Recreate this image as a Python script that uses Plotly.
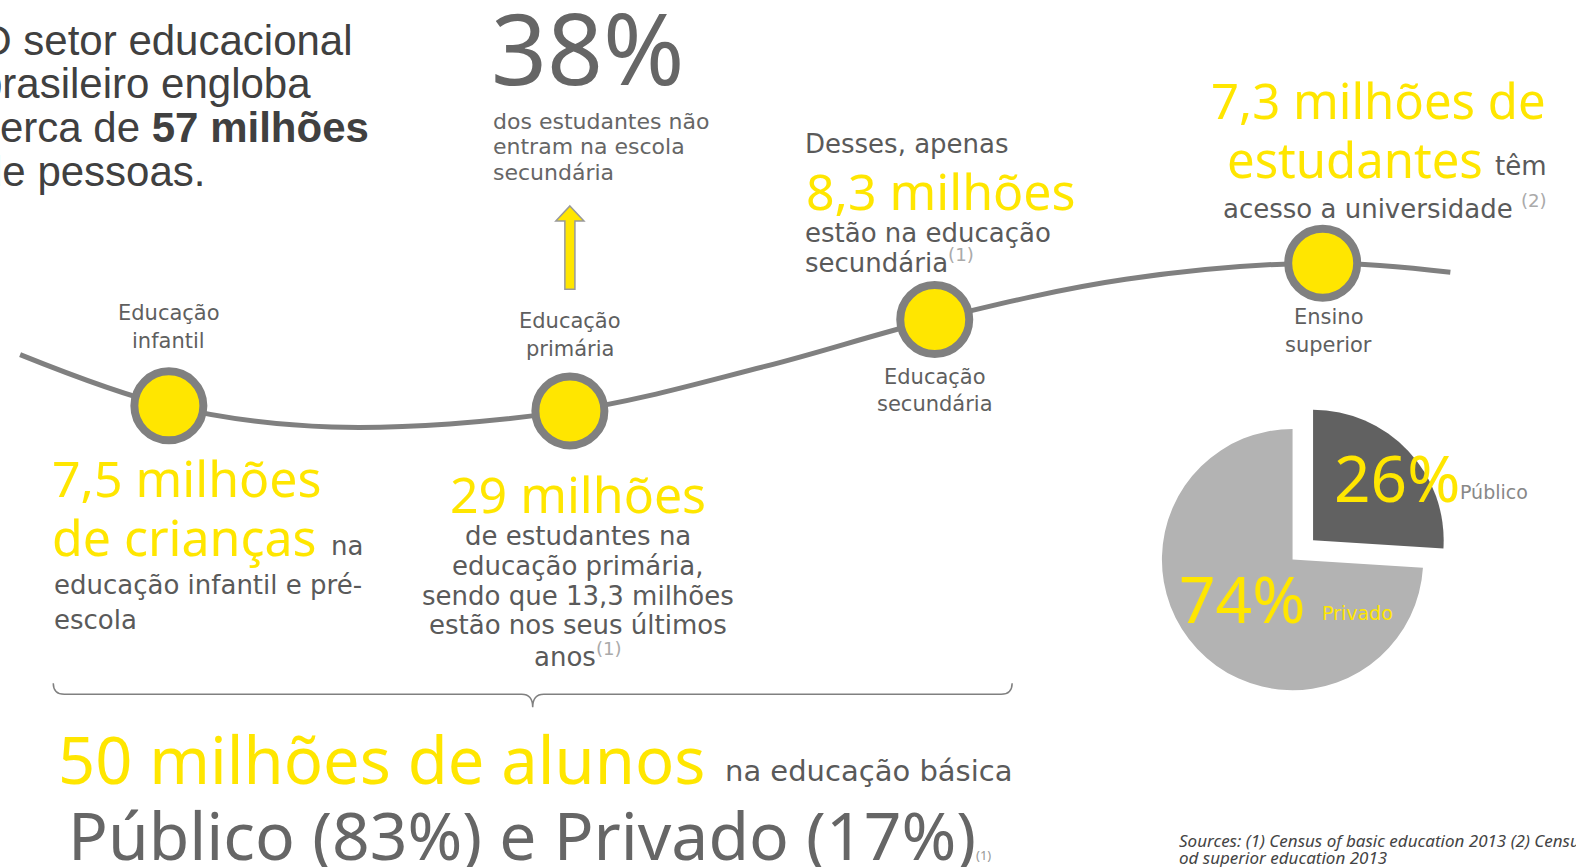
import plotly.graph_objects as go

# dados
stages = ["Educação infantil", "Educação primária", "Educação secundária", "Ensino superior"]
students_mi = [7.5, 29, 8.3, 7.3]          # milhões por etapa
total_people_mi = 57
not_secondary_pct = 38
primary_last_years_mi = 13.3
basic_total_mi = 50
basic_labels = ["Público", "Privado"]
basic_pct = [83, 17]
higher_labels = ["Público", "Privado"]
higher_pct = [26, 74]

YEL = "#FFE600"
GRY = "#5a5a5a"
LINE = "#808080"
BIG = "Noto Sans"
BODY = "DejaVu Sans"


def br(v):
    return f"{v:g}".replace(".", ",")


def sup(s):
    return f"<sup><span style='color:#aaaaaa'>{s}</span></sup>"


fig = go.Figure()

# curva da trajetoria
curve_x = [20, 168, 330, 567, 760, 930, 1120, 1316, 1443]
curve_y = [353, 404, 425, 409, 365, 318, 278, 262, 271]
fig.add_trace(go.Scatter(x=curve_x, y=curve_y, mode="lines",
                         line=dict(color=LINE, width=5, shape="spline", smoothing=1),
                         hoverinfo="skip"))

# etapas
node_x = [168, 567, 930, 1316]
node_y = [404, 409, 318, 262]
fig.add_trace(go.Scatter(x=node_x, y=node_y, mode="markers", text=stages,
                         marker=dict(size=69, color=YEL, line=dict(color=LINE, width=8)),
                         hovertemplate="%{text}<extra></extra>"))

ann = []


def txt(x, y, s, size, color=GRY, anchor="left", family=BODY):
    ann.append(dict(x=x, y=y, xref="x", yref="y", text=s, showarrow=False,
                    xanchor=anchor, yanchor="middle",
                    font=dict(size=size, color=color, family=family)))


# rotulos das etapas
label_pos = [(168, 312), (567, 320), (930, 375), (1322, 316)]
for (lx, ly), name in zip(label_pos, stages):
    w1, w2 = name.split(" ")
    txt(lx, ly, w1, 21, "#5f5f5f", "center")
    txt(lx, ly + 27, w2, 21, "#5f5f5f", "center")

# titulo (comeca cortado na borda esquerda)
for i, s in enumerate(["O setor educacional", "brasileiro engloba",
                       f"cerca de <b>{total_people_mi} milhões</b>", "de pessoas."]):
    ann.append(dict(x=0, y=40 + i * 43.5, xref="paper", yref="y", text=s, showarrow=False,
                    xanchor="left", yanchor="middle", xshift=-23,
                    font=dict(size=42, color="#404040", family="Liberation Sans")))

# 38%
txt(487, 47, f"{not_secondary_pct}%", 98, "#666666", family=BIG)
txt(489, 121, "dos estudantes não", 22, "#666666")
txt(489, 146, "entram na escola", 22, "#666666")
txt(489, 172, "secundária", 22, "#666666")

# seta
fig.add_shape(type="path",
              path="M 567 205 L 581 220 L 572 220 L 572 288 L 562 288 L 562 220 L 553 220 Z",
              fillcolor=YEL, line=dict(color="#999999", width=1.5), layer="above")

# secundaria
txt(799, 143, "Desses, apenas", 26)
txt(800, 190, f"{br(students_mi[2])} milhões", 50, YEL, family=BIG)
txt(799, 232, "estão na educação", 26)
txt(799, 260, "secundária" + sup("(1)"), 26)

# superior
txt(1540, 100, f"{br(students_mi[3])} milhões de", 49, YEL, "right", family=BIG)
txt(1477, 158, "estudantes", 49, YEL, "right", family=BIG)
txt(1541, 165, "têm", 26, GRY, "right")
txt(1541, 206, "acesso a universidade " + sup("(2)"), 26, GRY, "right")

# infantil
txt(50, 476, f"{br(students_mi[0])} milhões", 50, YEL, family=BIG)
txt(50, 535, "de crianças", 50, YEL, family=BIG)
txt(327, 543, "na", 26)
txt(52, 582, "educação infantil e pré-", 26)
txt(52, 617, "escola", 26)

# primaria
txt(575, 492, f"{br(students_mi[1])} milhões", 50, YEL, "center", family=BIG)
prim_lines = ["de estudantes na", "educação primária,",
              f"sendo que {br(primary_last_years_mi)} milhões",
              "estão nos seus últimos", "anos" + sup("(1)")]
for i, s in enumerate(prim_lines):
    txt(575, 534 + i * 29.5, s, 26, GRY, "center")

# chave
fig.add_shape(type="path",
              path="M 53 680 Q 53 691 64 691 L 519 691 Q 530 691 530 704 "
                   "Q 530 691 541 691 L 996 691 Q 1007 691 1007 680",
              line=dict(color=LINE, width=1.5))

# educacao basica
txt(56, 755, f"{basic_total_mi} milhões de alunos", 65, YEL, family=BIG)
txt(719, 767, "na educação básica", 29)
txt(66, 830,
    f"{basic_labels[0]} ({basic_pct[0]}%) e {basic_labels[1]} ({basic_pct[1]}%)"
    + "<span style='font-size:13px;color:#999999'>(1)</span>", 66, "#666666", family=BIG)

# pizza ensino superior
fig.add_trace(go.Pie(labels=higher_labels, values=higher_pct, sort=False,
                     direction="clockwise", rotation=0, pull=[0.215, 0],
                     marker=dict(colors=["#616161", "#b3b3b3"]),
                     textinfo="none", hole=0, showlegend=False,
                     domain=dict(x=[1128 / 1568, 1444 / 1568],
                                 y=[(863 - 715) / 863, (863 - 399) / 863])))
txt(1325, 475, f"{higher_pct[0]}%", 64, YEL, family=BIG)
txt(1451, 490, higher_labels[0], 19, "#888888")
txt(1171, 596, f"{higher_pct[1]}%", 64, YEL, family=BIG)
txt(1313, 610, higher_labels[1], 19, YEL)

# fontes
src = "<i>Sources: (1) Census of basic education 2013 (2) Census</i>"
txt(1171, 837, src, 17, "#444444", family=BIG)
txt(1171, 854, "<i>od superior education 2013</i>", 17, "#444444", family=BIG)

fig.update_layout(
    width=1576, height=867,
    margin=dict(l=0, r=0, t=0, b=0),
    paper_bgcolor="white", plot_bgcolor="white",
    showlegend=False,
    annotations=ann,
    xaxis=dict(range=[0, 1568], visible=False, fixedrange=True),
    yaxis=dict(range=[863, 0], visible=False, fixedrange=True),
)

# tira a margem padrao do <body> para a figura encostar no canto
fig.write_html("out.html", config={"displayModeBar": False},
               post_script="document.body.style.margin='0px';")
